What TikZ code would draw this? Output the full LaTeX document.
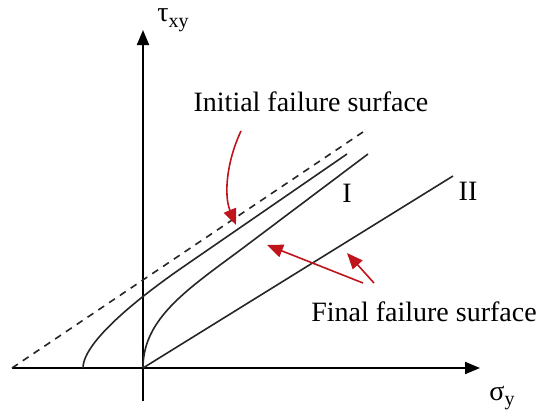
\documentclass[tikz,border=0pt]{standalone}
\usepackage{fontspec}
\setmainfont{Liberation Serif}
\usetikzlibrary{arrows.meta, positioning, calc}
\definecolor{markred}{HTML}{C0141C}
\newcommand{\lowsub}[1]{\raisebox{-0.45ex}{\fontsize{10}{12}\selectfont #1}}

\begin{document}
\begin{tikzpicture}[
    x=0.5pt, y=0.5pt,
    axis/.style={-{Triangle[length=7.5pt, width=6pt]}, line width=1pt},
    surface/.style={line width=0.8pt, black!85},
    envelope/.style={surface, dash pattern=on 3.5pt off 3pt},
    pointer/.style={-{Triangle[length=8pt, width=6.5pt]}, draw=markred, line width=0.8pt},
    label/.style={font=\fontsize{14}{16}\selectfont, inner sep=0pt}
]

\useasboundingbox (-143,-46) rectangle (398,368);

\coordinate (O) at (0,0);
\coordinate (xmin) at (-131,0);
\coordinate (xmax) at (337,0);
\coordinate (ymin) at (0,-33);
\coordinate (ymax) at (0,338);

\draw[axis] (xmin) -- (xmax);
\draw[axis] (ymin) -- (ymax);

\node[label] (tau) at (30,348) {τ\lowsub{xy}};
\node[label] (sigma) at (359,-30) {σ\lowsub{y}};

\coordinate (dashend) at (220,236);
\coordinate (initstart) at (-60,0);
\coordinate (initend) at (204,214);
\coordinate (oneend) at (225,214);
\coordinate (twoend) at (310,192);

\draw[envelope] (xmin) -- (dashend);
\draw[surface] (initstart) .. controls (-60,27) and (0,73.4) .. (40,101) -- (initend);
\draw[surface] (O) .. controls (0,50) and (45,79) .. (100,120) -- (oneend);
\draw[surface] (O) -- (twoend);

\node[label] (one) at (204,175) {I};
\node[label] (two) at (325,177) {II};

\node[label] (initial) at (168,266) {Initial failure surface};
\node[label] (final) at (281,56) {Final failure surface};

\coordinate (initfrom) at (98,237);
\coordinate (inittip) at (93,143);
\coordinate (finfromA) at (220,85);
\coordinate (fintipA) at (124,123);
\coordinate (finfromB) at (231,85);
\coordinate (fintipB) at (204,115);

\draw[pointer] (initfrom) .. controls (83,205) and (81,172) .. (inittip);
\draw[pointer] (finfromA) -- (fintipA);
\draw[pointer] (finfromB) -- (fintipB);

\end{tikzpicture}
\end{document}
